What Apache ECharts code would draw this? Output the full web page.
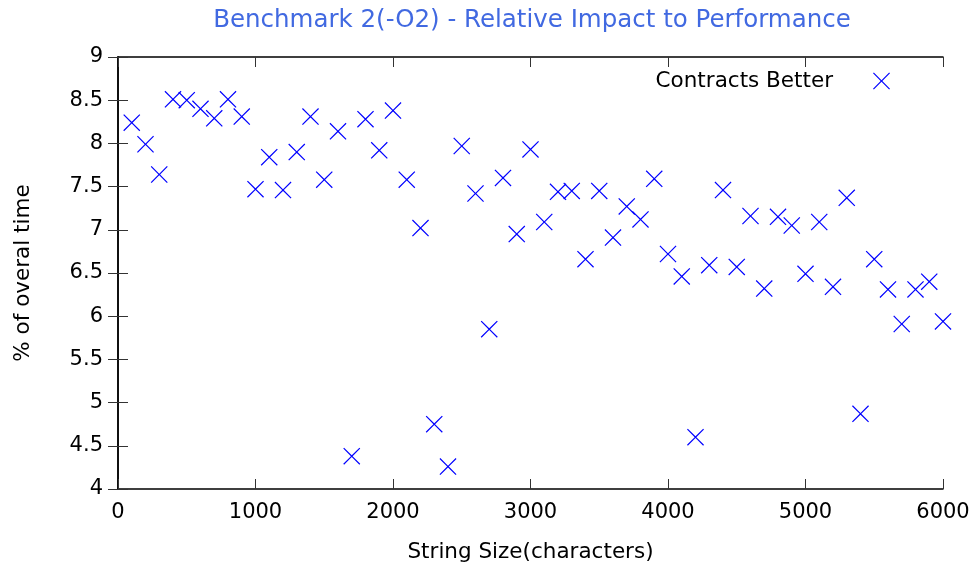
<!DOCTYPE html>
<html>
<head>
<meta charset="utf-8">
<script src="https://cdn.jsdelivr.net/npm/echarts@6/dist/echarts.min.js"></script>
<style>html,body{margin:0;padding:0;background:#fff;}#c{width:979px;height:571px;}</style>
</head>
<body>
<div id="c"></div>
<script>
const stringSizes = [100,200,300,400,500,600,700,800,900,1000,1100,1200,1300,1400,1500,1600,1700,1800,1900,2000,2100,2200,2300,2400,2500,2600,2700,2800,2900,3000,3100,3200,3300,3400,3500,3600,3700,3800,3900,4000,4100,4200,4300,4400,4500,4600,4700,4800,4900,5000,5100,5200,5300,5400,5500,5600,5700,5800,5900,6000];
const contractsBetter = [8.24,7.99,7.64,8.51,8.50,8.40,8.29,8.51,8.31,7.47,7.84,7.46,7.90,8.31,7.58,8.14,4.38,8.28,7.92,8.38,7.58,7.02,4.75,4.26,7.97,7.42,5.85,7.60,6.95,7.93,7.09,7.44,7.45,6.66,7.45,6.91,7.27,7.12,7.59,6.72,6.46,4.60,6.59,7.46,6.57,7.16,6.32,7.15,7.05,6.49,7.09,6.34,7.37,4.87,6.66,6.31,5.91,6.31,6.40,5.94];
const seriesName = 'Contracts Better';
const titleText = 'Benchmark 2(-O2) - Relative Impact to Performance';
const xName = 'String Size(characters)';
const yName = '% of overal time';

const FONT = 'DejaVu Sans';
const BLUE = '#0000FF';
const crossPath = 'path://M0,5L5,0L50,45L95,0L100,5L55,50L100,95L95,100L50,55L5,100L0,95L45,50Z';
const chart = echarts.init(document.getElementById('c'), null, {renderer: 'canvas'});
const axisLine = {show: true, lineStyle: {color: '#000', width: 1.5}};
const tick = {show: true, inside: true, length: 10, lineStyle: {color: '#333', width: 1}};
chart.setOption({
  animation: false,
  backgroundColor: '#fff',
  title: {
    text: titleText, left: 527, top: 3, textAlign: 'center',
    textStyle: {color: '#4169E1', fontFamily: FONT, fontSize: 24.5, fontWeight: 'normal'}
  },
  legend: {
    right: 84, top: 65, align: 'right', itemGap: 0, itemWidth: 17, itemHeight: 17,
    data: [{name: seriesName, icon: crossPath}],
    textStyle: {fontFamily: FONT, fontSize: 21.5, color: '#000', padding: [0, 35, 0, 0]},
    itemStyle: {color: BLUE, borderWidth: 0}
  },
  grid: {left: 118, right: 36, top: 57, bottom: 82, containLabel: false},
  xAxis: [{
    type: 'value', min: 0, max: 6000, interval: 1000, position: 'bottom',
    name: xName, nameLocation: 'middle', nameGap: 52,
    nameTextStyle: {fontFamily: FONT, fontSize: 21.5, color: '#000'},
    axisLine, axisTick: tick, splitLine: {show: false},
    axisLabel: {fontFamily: FONT, fontSize: 21, color: '#000', margin: 13, formatter: v => String(v)}
  }, {
    type: 'value', min: 0, max: 6000, interval: 1000, position: 'top',
    axisLine, axisTick: tick, splitLine: {show: false}, axisLabel: {show: false}
  }],
  yAxis: [{
    type: 'value', min: 4, max: 9, interval: 0.5, position: 'left',
    name: yName, nameLocation: 'middle', nameGap: 84, nameRotate: 90,
    nameTextStyle: {fontFamily: FONT, fontSize: 21.5, color: '#000'},
    axisLine, axisTick: tick, splitLine: {show: false},
    axisLabel: {fontFamily: FONT, fontSize: 21, color: '#000', margin: 15, formatter: v => String(v)}
  }, {
    type: 'value', min: 4, max: 9, interval: 0.5, position: 'right',
    axisLine, axisTick: tick, splitLine: {show: false}, axisLabel: {show: false}
  }],
  series: [{
    name: seriesName, type: 'scatter', xAxisIndex: 0, yAxisIndex: 0,
    symbol: crossPath, symbolSize: 17,
    itemStyle: {color: BLUE, borderWidth: 0, opacity: 1},
    emphasis: {disabled: true},
    data: stringSizes.map((x, i) => [x, contractsBetter[i]])
  }]
});
</script>
</body>
</html>
